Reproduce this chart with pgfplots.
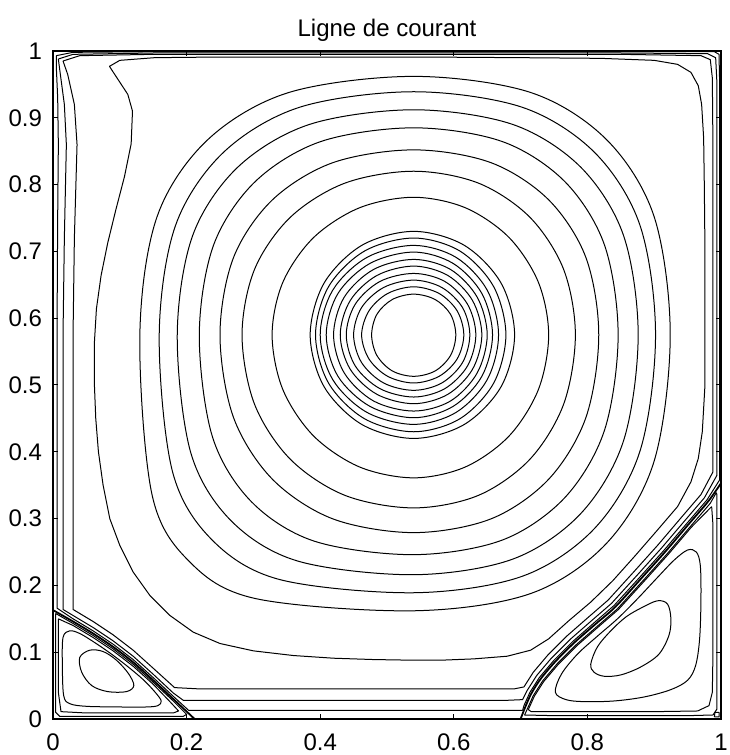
\documentclass[border=0pt]{standalone}
\usepackage{fontspec}
\setmainfont{Liberation Sans}
\usepackage{pgfplots}
\pgfplotsset{compat=1.18}
\pgfplotsset{
  sl/.style={black, line width=0.5pt, smooth cycle, tension=0.55, mark=none},
  sh/.style={black, line width=0.5pt, sharp plot, line join=round, mark=none},
  sp/.style={black, line width=0.9pt, smooth, tension=0.5, mark=none},
}
\begin{document}
\begin{tikzpicture}
\begin{axis}[
  name=ax,
  width=334pt, height=334pt, scale only axis,
  xmin=0, xmax=1, ymin=0, ymax=1,
  xtick={0,0.2,0.4,0.6,0.8,1},
  ytick={0,0.1,0.2,0.3,0.4,0.5,0.6,0.7,0.8,0.9,1},
  xticklabels={0,0.2,0.4,0.6,0.8,1},
  yticklabels={0,0.1,0.2,0.3,0.4,0.5,0.6,0.7,0.8,0.9,1},
  tick align=inside, major tick length=2.5pt,
  tick style={black, line width=0.5pt},
  axis line style={line width=1pt},
  title={Ligne de courant},
  title style={at={(0.5,1)}, anchor=base, yshift=1pt, font=\fontsize{12}{14}\selectfont},
  tick label style={font=\fontsize{12}{14}\selectfont},
  xticklabel style={yshift=-4pt},
  yticklabel style={xshift=-2pt},
  /pgf/number format/assume math mode=true,
  clip=true,
]
% ---- dense central rings
\addplot[sl] coordinates {(0.603,0.575) (0.595,0.606) (0.572,0.628) (0.540,0.636) (0.508,0.628) (0.485,0.606) (0.477,0.575) (0.485,0.544) (0.508,0.521) (0.540,0.513) (0.572,0.521) (0.595,0.544)};
\addplot[sl] coordinates {(0.615,0.575) (0.605,0.611) (0.578,0.637) (0.540,0.647) (0.501,0.637) (0.473,0.611) (0.462,0.575) (0.473,0.539) (0.501,0.513) (0.540,0.503) (0.578,0.513) (0.605,0.539)};
\addplot[sl] coordinates {(0.624,0.575) (0.613,0.616) (0.582,0.646) (0.540,0.657) (0.495,0.646) (0.462,0.616) (0.450,0.575) (0.462,0.5335) (0.495,0.503) (0.540,0.492) (0.582,0.503) (0.613,0.5335)};
\addplot[sl] coordinates {(0.633,0.575) (0.6205,0.621) (0.5865,0.655) (0.540,0.667) (0.4895,0.655) (0.4525,0.621) (0.439,0.575) (0.4525,0.5285) (0.4895,0.4945) (0.540,0.482) (0.5865,0.4945) (0.6205,0.5285)};
\addplot[sl] coordinates {(0.642,0.575) (0.628,0.6265) (0.591,0.664) (0.540,0.678) (0.485,0.664) (0.445,0.6265) (0.430,0.575) (0.445,0.5235) (0.485,0.486) (0.540,0.472) (0.591,0.486) (0.628,0.5235)};
\addplot[sl] coordinates {(0.650,0.575) (0.635,0.6315) (0.595,0.673) (0.540,0.688) (0.480,0.673) (0.436,0.6315) (0.420,0.575) (0.436,0.518) (0.480,0.476) (0.540,0.461) (0.595,0.476) (0.635,0.518)};
\addplot[sl] coordinates {(0.658,0.575) (0.642,0.637) (0.599,0.682) (0.540,0.699) (0.4745,0.682) (0.4266,0.637) (0.409,0.575) (0.4266,0.513) (0.4745,0.468) (0.540,0.451) (0.599,0.468) (0.642,0.513)};
\addplot[sl] coordinates {(0.667,0.575) (0.650,0.642) (0.6035,0.691) (0.540,0.709) (0.470,0.691) (0.4188,0.642) (0.400,0.575) (0.4188,0.508) (0.470,0.459) (0.540,0.441) (0.6035,0.459) (0.650,0.508)};
\addplot[sl] coordinates {(0.678,0.575) (0.6595,0.6475) (0.609,0.7006) (0.540,0.720) (0.4665,0.7006) (0.4127,0.6475) (0.393,0.575) (0.4127,0.5025) (0.4665,0.4494) (0.540,0.430) (0.609,0.4494) (0.6595,0.5025)};
\addplot[sl] coordinates {(0.691,0.575) (0.6708,0.6525) (0.6155,0.7092) (0.540,0.730) (0.4625,0.7092) (0.4058,0.6525) (0.385,0.575) (0.4058,0.4975) (0.4625,0.4408) (0.540,0.420) (0.6155,0.4408) (0.6708,0.4975)};
% ---- outer rings 1-7
\addplot[sl] coordinates {(0.742,0.575) (0.7266,0.6538) (0.6828,0.7207) (0.6173,0.7653) (0.540,0.781) (0.4589,0.7653) (0.3901,0.7207) (0.3441,0.6538) (0.328,0.575) (0.3441,0.4931) (0.3901,0.4237) (0.4589,0.3773) (0.540,0.361) (0.6173,0.3773) (0.6828,0.4237) (0.7266,0.4931)};
\addplot[sl] coordinates {(0.782,0.575) (0.7644,0.6731) (0.7139,0.7511) (0.6369,0.8022) (0.540,0.820) (0.437,0.8022) (0.3553,0.7511) (0.3017,0.6731) (0.283,0.575) (0.3017,0.4712) (0.3553,0.3888) (0.437,0.3348) (0.540,0.316) (0.6369,0.3348) (0.7139,0.3888) (0.7644,0.4712)};
\addplot[sl] coordinates {(0.817,0.575) (0.7978,0.6907) (0.7421,0.7771) (0.6557,0.8328) (0.540,0.852) (0.4189,0.8328) (0.3284,0.7771) (0.2702,0.6907) (0.250,0.575) (0.2702,0.4514) (0.3284,0.359) (0.4189,0.2996) (0.540,0.279) (0.6557,0.2996) (0.7421,0.359) (0.7978,0.4514)};
\addplot[sl] coordinates {(0.846,0.575) (0.8256,0.7095) (0.7664,0.8043) (0.6727,0.8644) (0.540,0.885) (0.4007,0.8644) (0.3025,0.8043) (0.2404,0.7095) (0.219,0.575) (0.2387,0.4224) (0.2967,0.3256) (0.3912,0.2662) (0.540,0.246) (0.6727,0.2679) (0.7664,0.3316) (0.8256,0.4323)};
\addplot[sl] coordinates {(0.876,0.575) (0.8541,0.7238) (0.7902,0.8259) (0.6884,0.890) (0.540,0.912) (0.3837,0.890) (0.2764,0.8259) (0.2091,0.7238) (0.186,0.575) (0.2062,0.3988) (0.2661,0.2973) (0.3662,0.2365) (0.540,0.216) (0.6884,0.2394) (0.7902,0.3077) (0.8541,0.4165)};
\addplot[sl] coordinates {(0.902,0.575) (0.8789,0.7385) (0.8112,0.8477) (0.7026,0.9157) (0.540,0.939) (0.3689,0.9157) (0.2546,0.8477) (0.1833,0.7385) (0.159,0.575) (0.1786,0.3715) (0.2376,0.2686) (0.3392,0.2088) (0.540,0.189) (0.7026,0.2137) (0.8112,0.2858) (0.8789,0.4016)};
\addplot[sl] coordinates {(0.924,0.575) (0.900,0.7517) (0.8294,0.8666) (0.7153,0.9378) (0.540,0.962) (0.3528,0.9378) (0.231,0.8666) (0.1557,0.7517) (0.130,0.575) (0.1481,0.3365) (0.2037,0.2362) (0.3032,0.1803) (0.540,0.162) (0.7153,0.1879) (0.8294,0.2638) (0.900,0.3864)};
% ---- ring 8 (with hook at top left)
\addplot[sh] coordinates {(0.0845,0.977) (0.100,0.986) (0.152,0.990) (0.25,0.991) (0.40,0.991) (0.55,0.991) (0.70,0.990) (0.82,0.989) (0.90,0.986) (0.935,0.980) (0.955,0.968) (0.966,0.948) (0.971,0.92) (0.974,0.87) (0.975,0.80) (0.976,0.70) (0.976,0.575) (0.976,0.50) (0.972,0.43) (0.966,0.39) (0.955,0.355) (0.935,0.318) (0.905,0.283) (0.872,0.245) (0.838,0.207) (0.805,0.175) (0.772,0.147) (0.742,0.120) (0.715,0.103) (0.680,0.094) (0.630,0.090) (0.580,0.088) (0.540,0.088) (0.480,0.089) (0.420,0.091) (0.360,0.095) (0.300,0.102) (0.250,0.113) (0.210,0.130) (0.175,0.155) (0.145,0.185) (0.120,0.220) (0.100,0.260) (0.085,0.300) (0.075,0.350) (0.068,0.400) (0.064,0.450) (0.062,0.500) (0.062,0.564) (0.065,0.614) (0.072,0.664) (0.082,0.713) (0.094,0.762) (0.107,0.812) (0.117,0.861) (0.119,0.910) (0.112,0.935) (0.0845,0.977)};
% ---- rings 9-11 hugging walls and separatrices
\addplot[sh] coordinates {(0.015,0.985) (0.04,0.993) (0.15,0.995) (0.50,0.995) (0.85,0.995) (0.970,0.993) (0.984,0.987) (0.987,0.96) (0.988,0.85) (0.988,0.70) (0.988,0.575) (0.988,0.45) (0.988,0.37) (0.970,0.336) (0.940,0.301) (0.906,0.261) (0.871,0.222) (0.831,0.178) (0.801,0.152) (0.769,0.124) (0.741,0.096) (0.719,0.070) (0.705,0.048) (0.690,0.045) (0.60,0.045) (0.45,0.045) (0.30,0.045) (0.22,0.045) (0.182,0.047) (0.15,0.076) (0.12,0.103) (0.09,0.126) (0.06,0.146) (0.03,0.164) (0.030,0.20) (0.030,0.35) (0.030,0.575) (0.032,0.72) (0.036,0.86) (0.032,0.92) (0.022,0.965) (0.015,0.985)};
\addplot[sh] coordinates {(0.008,0.988) (0.03,0.995) (0.15,0.997) (0.50,0.997) (0.85,0.997) (0.980,0.996) (0.992,0.990) (0.994,0.95) (0.994,0.80) (0.994,0.575) (0.994,0.40) (0.994,0.365) (0.975,0.331) (0.945,0.296) (0.911,0.256) (0.876,0.217) (0.836,0.173) (0.806,0.147) (0.774,0.119) (0.746,0.091) (0.724,0.065) (0.710,0.043) (0.703,0.029) (0.68,0.028) (0.55,0.028) (0.40,0.028) (0.25,0.028) (0.195,0.028) (0.18,0.039) (0.15,0.067) (0.12,0.094) (0.09,0.117) (0.06,0.137) (0.03,0.155) (0.015,0.164) (0.015,0.20) (0.015,0.40) (0.015,0.575) (0.017,0.72) (0.020,0.86) (0.017,0.92) (0.011,0.965) (0.008,0.988)};
\addplot[sh] coordinates {(0.005,0.993) (0.03,0.998) (0.15,0.999) (0.50,0.999) (0.85,0.999) (0.990,0.999) (0.997,0.995) (0.998,0.95) (0.998,0.575) (0.998,0.40) (0.998,0.358) (0.979,0.328) (0.949,0.293) (0.915,0.253) (0.880,0.214) (0.840,0.170) (0.810,0.144) (0.778,0.116) (0.750,0.088) (0.728,0.062) (0.714,0.040) (0.705,0.020) (0.703,0.013) (0.68,0.013) (0.50,0.013) (0.30,0.013) (0.203,0.013) (0.18,0.034) (0.15,0.062) (0.12,0.089) (0.09,0.112) (0.06,0.132) (0.03,0.150) (0.006,0.166) (0.006,0.25) (0.006,0.575) (0.007,0.75) (0.008,0.86) (0.007,0.93) (0.005,0.975) (0.005,0.993)};
% ---- separatrices
\addplot[sp] coordinates {(0.700,0.000) (0.707,0.018) (0.716,0.038) (0.730,0.060) (0.752,0.086) (0.780,0.114) (0.812,0.142) (0.842,0.168) (0.882,0.212) (0.917,0.251) (0.951,0.291) (0.981,0.326) (1.000,0.353)};
\addplot[sp] coordinates {(0,0.163) (0.03,0.146) (0.06,0.128) (0.09,0.108) (0.12,0.085) (0.15,0.058) (0.18,0.030) (0.212,0.0)};
% ---- bottom right secondary vortex
\addplot[sh] coordinates {(0.993,0.339) (0.984,0.323) (0.954,0.288) (0.920,0.248) (0.885,0.209) (0.845,0.165) (0.815,0.139) (0.783,0.111) (0.755,0.083) (0.733,0.057) (0.719,0.035) (0.710,0.015) (0.706,0.006) (0.75,0.005) (0.85,0.005) (0.95,0.005) (0.988,0.006) (0.994,0.015) (0.994,0.10) (0.994,0.20) (0.994,0.30) (0.994,0.335) (0.993,0.339)};
\addplot[sh] coordinates {(0.986,0.318) (0.9555,0.287) (0.9215,0.247) (0.8865,0.208) (0.8465,0.164) (0.8165,0.138) (0.7845,0.110) (0.7565,0.082) (0.7345,0.056) (0.7205,0.034) (0.7115,0.014) (0.716,0.011) (0.80,0.011) (0.90,0.011) (0.965,0.012) (0.982,0.020) (0.987,0.040) (0.988,0.10) (0.988,0.20) (0.988,0.29) (0.986,0.318)};
\addplot[sl] coordinates {(0.752,0.040) (0.761,0.067) (0.785,0.097) (0.815,0.124) (0.845,0.150) (0.875,0.180) (0.905,0.212) (0.930,0.238) (0.950,0.253) (0.963,0.250) (0.969,0.230) (0.970,0.18) (0.968,0.12) (0.962,0.08) (0.950,0.058) (0.925,0.044) (0.885,0.033) (0.840,0.027) (0.795,0.026) (0.768,0.029)};
\addplot[sl] coordinates {(0.805,0.082) (0.815,0.108) (0.835,0.132) (0.858,0.153) (0.882,0.167) (0.905,0.177) (0.920,0.172) (0.925,0.150) (0.922,0.125) (0.907,0.097) (0.880,0.078) (0.850,0.066) (0.825,0.064) (0.810,0.070)};
\addplot[sh] coordinates {(0.990,0.003) (0.997,0.003) (0.997,0.010) (0.991,0.010) (0.990,0.003)};
% ---- bottom left secondary vortex
\addplot[sh] coordinates {(0.004,0.158) (0.03,0.143) (0.06,0.125) (0.09,0.105) (0.12,0.082) (0.15,0.055) (0.18,0.027) (0.200,0.007) (0.195,0.004) (0.10,0.004) (0.01,0.004) (0.004,0.01) (0.004,0.08) (0.004,0.158)};
\addplot[sh] coordinates {(0.008,0.150) (0.03,0.140) (0.06,0.122) (0.09,0.102) (0.12,0.079) (0.15,0.052) (0.175,0.026) (0.188,0.012) (0.180,0.009) (0.12,0.009) (0.05,0.009) (0.012,0.011) (0.008,0.04) (0.008,0.10) (0.008,0.150)};
\addplot[sl] coordinates {(0.015,0.122) (0.025,0.132) (0.040,0.128) (0.060,0.116) (0.085,0.099) (0.110,0.080) (0.135,0.059) (0.153,0.040) (0.162,0.027) (0.157,0.020) (0.140,0.018) (0.100,0.018) (0.050,0.019) (0.025,0.023) (0.016,0.035) (0.014,0.080)};
\addplot[sl] coordinates {(0.040,0.092) (0.055,0.103) (0.075,0.101) (0.095,0.088) (0.113,0.068) (0.121,0.050) (0.110,0.041) (0.082,0.041) (0.058,0.050) (0.043,0.070)};
\end{axis}
\pgfresetboundingbox
\path ([xshift=-26.5pt,yshift=-18pt]ax.south west) rectangle ([xshift=4pt,yshift=25.5pt]ax.north east);
\end{tikzpicture}
\end{document}
